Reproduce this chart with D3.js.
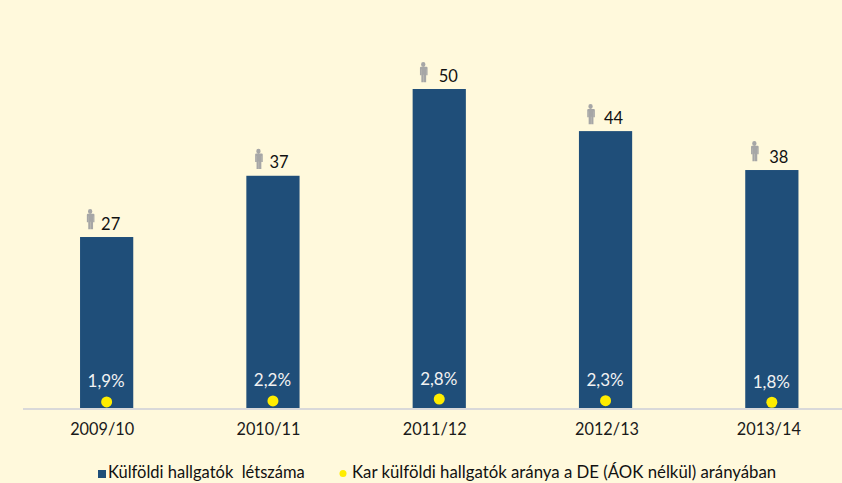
<!DOCTYPE html>
<html>
<head>
<meta charset="utf-8">
<script src="https://d3js.org/d3.v7.min.js"></script>
<style>
html, body { margin: 0; padding: 0; background: #FFF9DC; overflow: hidden; }
svg { display: block; font-family: Lato, "Open Sans", sans-serif; }
</style>
</head>
<body>
<div id="chart"></div>
<script>
var categories = ["2009/10", "2010/11", "2011/12", "2012/13", "2013/14"];
// bar heights, the printed numbers are a little higher in places
var barValues = [26.8, 36.4, 50, 43.4, 37.3];
var countLabels = ["27", "37", "50", "44", "38"];
var shareValues = [1.9, 2.2, 2.8, 2.3, 1.8];
var shareLabels = ["1,9%", "2,2%", "2,8%", "2,3%", "1,8%"];
var legendLabels = ["Külföldi hallgatók  létszáma", "Kar külföldi hallgatók aránya a DE (ÁOK nélkül) arányában"];

// the labels in the original were placed by hand, offsets from the bar centre
var tickShift = [-4.5, -4.5, -4.5, 1.5, -3];
var countShift = [4, 6, 9, 8, 7];
var iconShift = [-16.5, -14.5, -16, -15, -17.5];
var iconLift = [28, 27, 27, 27, 29];

var width = 842, height = 483;
var svg = d3.select("#chart").append("svg")
	.attr("width", width)
	.attr("height", height);

var x = d3.scaleBand()
	.domain(categories)
	.range([23.5, 855])
	.paddingInner(0.68)
	.paddingOuter(0.34);
var y = d3.scaleLinear().domain([0, 50]).range([408, 89]);
// second axis for the yellow points, very flat
var y2 = d3.scaleLinear().domain([0, 10]).range([408, 376]);

function mid(d) { return x(d) + x.bandwidth() / 2; }

svg.append("line")
	.attr("x1", 23).attr("x2", width)
	.attr("y1", 409).attr("y2", 409)
	.attr("stroke", "#D9D9D9")
	.attr("stroke-width", 2);

svg.selectAll("rect.bar")
	.data(categories)
	.enter().append("rect")
	.attr("class", "bar")
	.attr("x", function (d) { return x(d); })
	.attr("y", function (d, i) { return y(barValues[i]); })
	.attr("width", x.bandwidth())
	.attr("height", function (d, i) { return y(0) - y(barValues[i]); })
	.attr("fill", "#1F4E79");

// x axis
var axis = svg.append("g")
	.attr("transform", "translate(0,408.5)")
	.call(d3.axisBottom(x).tickSize(0).tickPadding(15));
axis.select(".domain").remove();
axis.selectAll("text")
	.attr("font-size", 16.3)
	.attr("font-family", "Lato, sans-serif")
	.attr("fill", "#1a1a1a")
	.attr("dx", function (d, i) { return tickShift[i]; });

// count labels
svg.selectAll("text.count")
	.data(categories)
	.enter().append("text")
	.attr("class", "count")
	.attr("x", function (d, i) { return mid(d) + countShift[i]; })
	.attr("y", function (d, i) { return y(barValues[i]) - 7.5; })
	.attr("text-anchor", "middle")
	.attr("font-size", 16.5)
	.attr("fill", "#111")
	.text(function (d, i) { return countLabels[i]; });

// little person icons
var person = "M-2.2,2.4a2.2,2.4 0 1,1 4.4,0a2.2,2.4 0 1,1 -4.4,0Z"
	+ "M-3.3,4.8h6.6q1,0 1,1v7.4h-1.3v-6h-0.1v13h-2.3v-7.5h-0.2v7.5h-2.3v-13h-0.1v6h-1.3v-7.4q0,-1 1,-1Z";
svg.selectAll("path.person")
	.data(categories)
	.enter().append("path")
	.attr("class", "person")
	.attr("d", person)
	.attr("fill", "#A6A6A6")
	.attr("transform", function (d, i) {
		return "translate(" + (mid(d) + iconShift[i]) + "," + (y(barValues[i]) - iconLift[i]) + ")";
	});

// yellow points and their labels
svg.selectAll("circle.share")
	.data(categories)
	.enter().append("circle")
	.attr("class", "share")
	.attr("cx", mid)
	.attr("cy", function (d, i) { return y2(shareValues[i]); })
	.attr("r", 5.5)
	.attr("fill", "#FFED00");

svg.selectAll("text.share")
	.data(categories)
	.enter().append("text")
	.attr("class", "share")
	.attr("x", function (d) { return mid(d) - 0.5; })
	.attr("y", function (d, i) { return y2(shareValues[i]) - 14.5; })
	.attr("text-anchor", "middle")
	.attr("font-size", 17)
	.attr("fill", "#F2F2F2")
	.text(function (d, i) { return shareLabels[i]; });

// legend
var legend = svg.append("g").attr("font-size", 16.8).attr("fill", "#111");
legend.append("rect")
	.attr("x", 98).attr("y", 470).attr("width", 8).attr("height", 8)
	.attr("fill", "#1F4E79");
legend.append("text").attr("x", 108).attr("y", 478).attr("font-size", 16.5).style("white-space", "pre").text(legendLabels[0]);
legend.append("circle")
	.attr("cx", 343).attr("cy", 473.5).attr("r", 3.5)
	.attr("fill", "#FFED00");
legend.append("text").attr("x", 352).attr("y", 478).text(legendLabels[1]);
</script>
</body>
</html>
